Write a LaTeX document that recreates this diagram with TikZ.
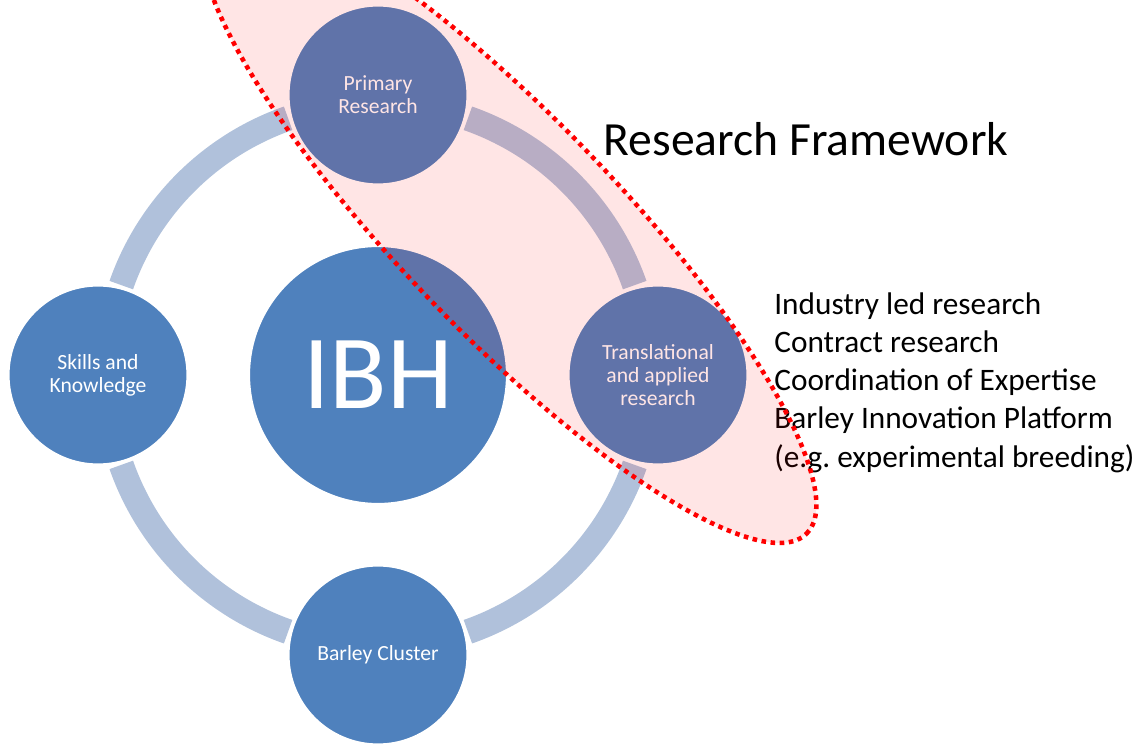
\documentclass[tikz,border=0pt]{standalone}
\usepackage{fontspec}
\setmainfont{Carlito}
\frenchspacing
\definecolor{ibhblue}{RGB}{79,129,189}
\definecolor{ringblue}{RGB}{176,193,219}
\tikzset{%
  hub/.style={circle,fill=ibhblue,draw=white,line width=1.2pt,inner sep=0pt,
    minimum size=5.16cm,text=white,font=\fontsize{60}{60}\selectfont},%
  spoke/.style={circle,fill=ibhblue,draw=white,line width=1.2pt,inner sep=0pt,
    minimum size=3.58cm,text=white,align=center,font=\fontsize{12.3}{13.2}\selectfont},%
  ringarc/.style={draw=ringblue,line width=0.5cm},%
  framezone/.style={draw=red,fill=red,fill opacity=0.1,line width=2.6pt,
    dash pattern=on 2.6pt off 2.6pt}%
}

\begin{document}
\begin{tikzpicture}[x=0.02cm,y=0.02cm]
\def\Rring{272} % ring radius
\def\Rsat{280} % distance of the outer circles
\def\gap{19.3} % half gap of the ring at each circle

\useasboundingbox (-378,-368) rectangle (763,375);
\clip (-378,-368) rectangle (763,375);

% ring
\foreach \a in {0,90,180,270}
  \draw[ringarc] (\a+\gap:\Rring) arc[start angle=\a+\gap,end angle=\a+90-\gap,radius=\Rring];

\node[hub] (IBH) at (0,0) {IBH};
\node[spoke] (primary) at (90:\Rsat) {Primary\\Research};
\node[spoke] (transl) at (0:\Rsat) {Translational\\and applied\\research};
\node[spoke] (cluster) at (270:\Rsat) {Barley Cluster};
\node[spoke] (skills) at (180:\Rsat) {Skills and\\Knowledge};

\node[anchor=base west,inner sep=0pt,font=\fontsize{27.1}{30}\selectfont] (title) at (225.4,219.5) {Research Framework};
% base = last line here
\node[anchor=base west,inner sep=0pt,align=left,font=\fontsize{17.8}{21.7}\selectfont] (list) at (396,-92)
  {Industry led research\\Contract research\\Coordination of Expertise\\Barley Innovation Platform\\(e.g. experimental breeding)};

% research framework zone
\draw[framezone,shift={(131,149)},rotate=-46] (0,0) ellipse [x radius=428,y radius=108];
\end{tikzpicture}
\end{document}
